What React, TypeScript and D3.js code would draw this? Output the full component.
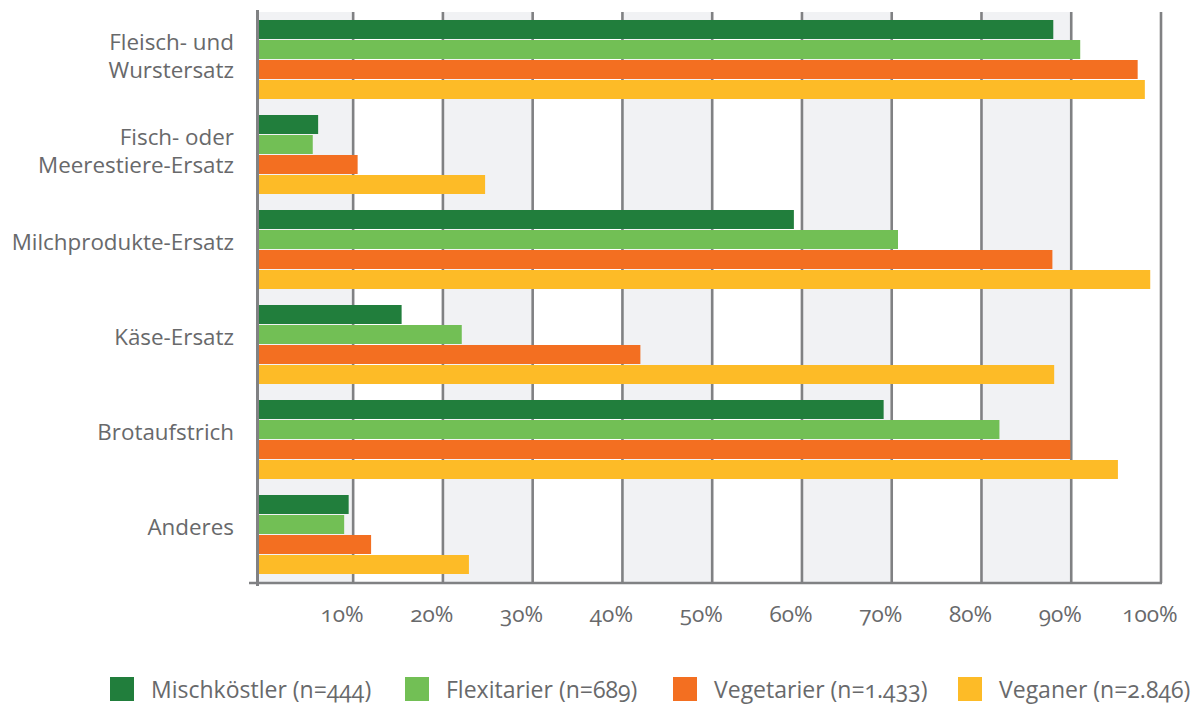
import React from "react";
import * as d3 from "d3";

// Product categories (line breaks mark the wrapped labels)
const categories = [
  "Fleisch- und\nWurstersatz",
  "Fisch- oder\nMeerestiere-Ersatz",
  "Milchprodukte-Ersatz",
  "Käse-Ersatz",
  "Brotaufstrich",
  "Anderes",
];

// Share of respondents per group, in percent
const mischkoestler = [88.0, 6.1, 59.1, 15.4, 69.1, 9.5];
const flexitarier = [91.0, 5.5, 70.7, 22.1, 82.0, 9.0];
const vegetarier = [97.4, 10.5, 87.9, 42.0, 89.9, 12.0];
const veganer = [98.2, 24.7, 98.8, 88.1, 95.2, 22.9];

const seriesNames = [
  "Mischköstler (n=444)",
  "Flexitarier (n=689)",
  "Vegetarier (n=1.433)",
  "Veganer (n=2.846)",
];
const seriesValues = [mischkoestler, flexitarier, vegetarier, veganer];
const seriesColors = ["#217e3c", "#72bf55", "#f36f21", "#fdbb27"];

const tickValues = [10, 20, 30, 40, 50, 60, 70, 80, 90, 100];
const tickLabels = tickValues.map((v) => `${v}%`);

const W = 1201;
const H = 706;
const FONT = "'Open Sans', 'Noto Sans', sans-serif";
const TEXT = "#68696b";
const GRID = "#808183";
const BAND = "#f1f2f4";

// axis origin sits a touch left of 0 %
const X_MIN = -0.6;

const legendX = [110, 405, 673, 958];

export default function App() {
  const x = d3.scaleLinear().domain([X_MIN, 100]).range([258, 1161]);
  const y = d3
    .scaleBand<string>()
    .domain(categories)
    .range([12, 583])
    .paddingInner(15 / 95)
    .paddingOuter(0.0842);
  const inner = d3
    .scaleBand<number>()
    .domain(d3.range(seriesNames.length))
    .range([0, y.bandwidth() - 1])
    .paddingInner(0.05);

  const top = y.range()[0];
  const bottom = y.range()[1];
  const x0 = x(X_MIN);

  // alternating shaded columns between gridlines
  const bounds = [X_MIN, ...tickValues];
  const bands = d3.range(0, bounds.length - 1, 2).map((i) => [bounds[i], bounds[i + 1]]);

  return (
    <svg
      width={W}
      height={H}
      style={{ position: "absolute", left: 0, top: 0, background: "#fff" }}
      fontFamily={FONT}
    >
      {bands.map(([a, b], i) => (
        <rect key={`band${i}`} x={x(a)} y={top} width={x(b) - x(a)} height={bottom - top} fill={BAND} />
      ))}
      {tickValues.map((v) => (
        <line key={`grid${v}`} x1={x(v)} x2={x(v)} y1={top} y2={bottom} stroke={GRID} strokeWidth={2.6} />
      ))}

      {categories.map((c, ci) => (
        <g key={`grp${ci}`} transform={`translate(0,${y(c)})`}>
          {seriesValues.map((vals, si) => (
            <rect
              key={`bar${si}`}
              x={x0}
              y={inner(si)}
              width={x(vals[ci]) - x0}
              height={inner.bandwidth()}
              fill={seriesColors[si]}
            />
          ))}
        </g>
      ))}

      {/* axes */}
      <line x1={x0 - 0.5} x2={x0 - 0.5} y1={top - 2} y2={bottom + 3} stroke={GRID} strokeWidth={3} />
      <line x1={249} x2={x(100) + 1} y1={bottom} y2={bottom} stroke={GRID} strokeWidth={2.6} />

      {tickValues.map((v, i) => (
        <text
          key={`tick${v}`}
          x={x(v) - 11}
          y={622}
          textAnchor="middle"
          fontSize={22.5}
          fill={TEXT}
          style={{ fontVariantNumeric: "oldstyle-nums" }}
        >
          {tickLabels[i]}
        </text>
      ))}

      {categories.map((c, ci) => {
        const lines = c.split("\n");
        const cy = (y(c) as number) + y.bandwidth() / 2;
        const y0 = cy - (lines.length - 1) * 10;
        return (
          <text key={`cat${ci}`} textAnchor="end" fontSize={22.4} fill={TEXT}>
            {lines.map((l, li) => (
              <tspan key={li} x={234} y={y0 + li * 28}>
                {l}
              </tspan>
            ))}
          </text>
        );
      })}

      {seriesNames.map((name, si) => (
        <g key={`leg${si}`} transform={`translate(${legendX[si]},0)`}>
          <rect x={0} y={677} width={24} height={24} fill={seriesColors[si]} />
          <text
            x={41}
            y={698}
            fontSize={23}
            fill={TEXT}
            style={{ fontVariantNumeric: "oldstyle-nums" }}
          >
            {name}
          </text>
        </g>
      ))}
    </svg>
  );
}
